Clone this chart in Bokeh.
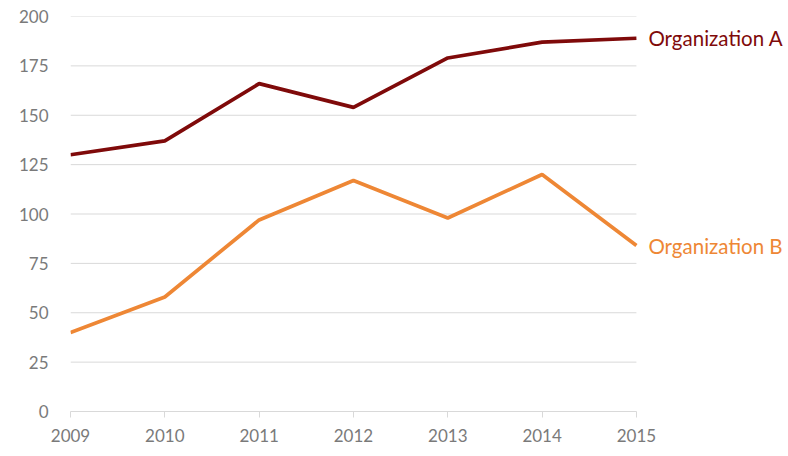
from bokeh.plotting import figure
from bokeh.models import Label, FixedTicker
from bokeh.embed import file_html
from bokeh.resources import INLINE

years = [2009, 2010, 2011, 2012, 2013, 2014, 2015]
org_a = [130, 137, 166, 154, 179, 187, 189]
org_b = [40, 58, 97, 117, 98, 120, 84]
y_ticks = [0, 25, 50, 75, 100, 125, 150, 175, 200]

color_a = '#7F0A0A'
color_b = '#EE8735'
font = 'Lato'

# x range runs past 2015 so the series names fit inside the frame
p = figure(width=788, height=456,
           x_range=(2009, 2016.57), y_range=(0, 200),
           output_backend='svg', toolbar_location=None,
           min_border_left=70, min_border_right=4,
           min_border_top=16, min_border_bottom=45)
p.outline_line_color = None

# horizontal grid lines, only across the data span
p.segment(x0=years[0], x1=years[-1], y0=y_ticks[1:], y1=y_ticks[1:],
          line_color='#d9d9d9', line_width=1)

p.line(years, org_a, line_width=3.7, color=color_a)
p.line(years, org_b, line_width=3.7, color=color_b)

p.add_layout(Label(x=years[-1], y=org_a[-1], x_offset=12, text='Organization A',
                   text_color=color_a, text_font=font, text_font_size='20.5px',
                   text_baseline='middle'))
p.add_layout(Label(x=years[-1], y=org_b[-1], x_offset=12, text='Organization B',
                   text_color=color_b, text_font=font, text_font_size='20.5px',
                   text_baseline='middle'))

p.xgrid.grid_line_color = None
p.ygrid.grid_line_color = None

p.yaxis.ticker = FixedTicker(ticks=y_ticks)
p.yaxis.axis_line_color = None
p.yaxis.major_tick_line_color = None
p.yaxis.minor_tick_line_color = None
p.yaxis.major_label_standoff = 16

p.xaxis.ticker = FixedTicker(ticks=years)
p.xaxis.bounds = (years[0], years[-1])
p.xaxis.axis_line_color = '#d9d9d9'
p.xaxis.major_tick_line_color = '#d9d9d9'
p.xaxis.major_tick_out = 6
p.xaxis.major_tick_in = 0
p.xaxis.minor_tick_line_color = None
p.xaxis.major_label_standoff = 11

for ax in (p.xaxis, p.yaxis):
    ax.major_label_text_font = font
    ax.major_label_text_font_size = '17px'
    ax.major_label_text_color = '#7a7a7a'

open('out.html', 'w').write(file_html(p, INLINE))
